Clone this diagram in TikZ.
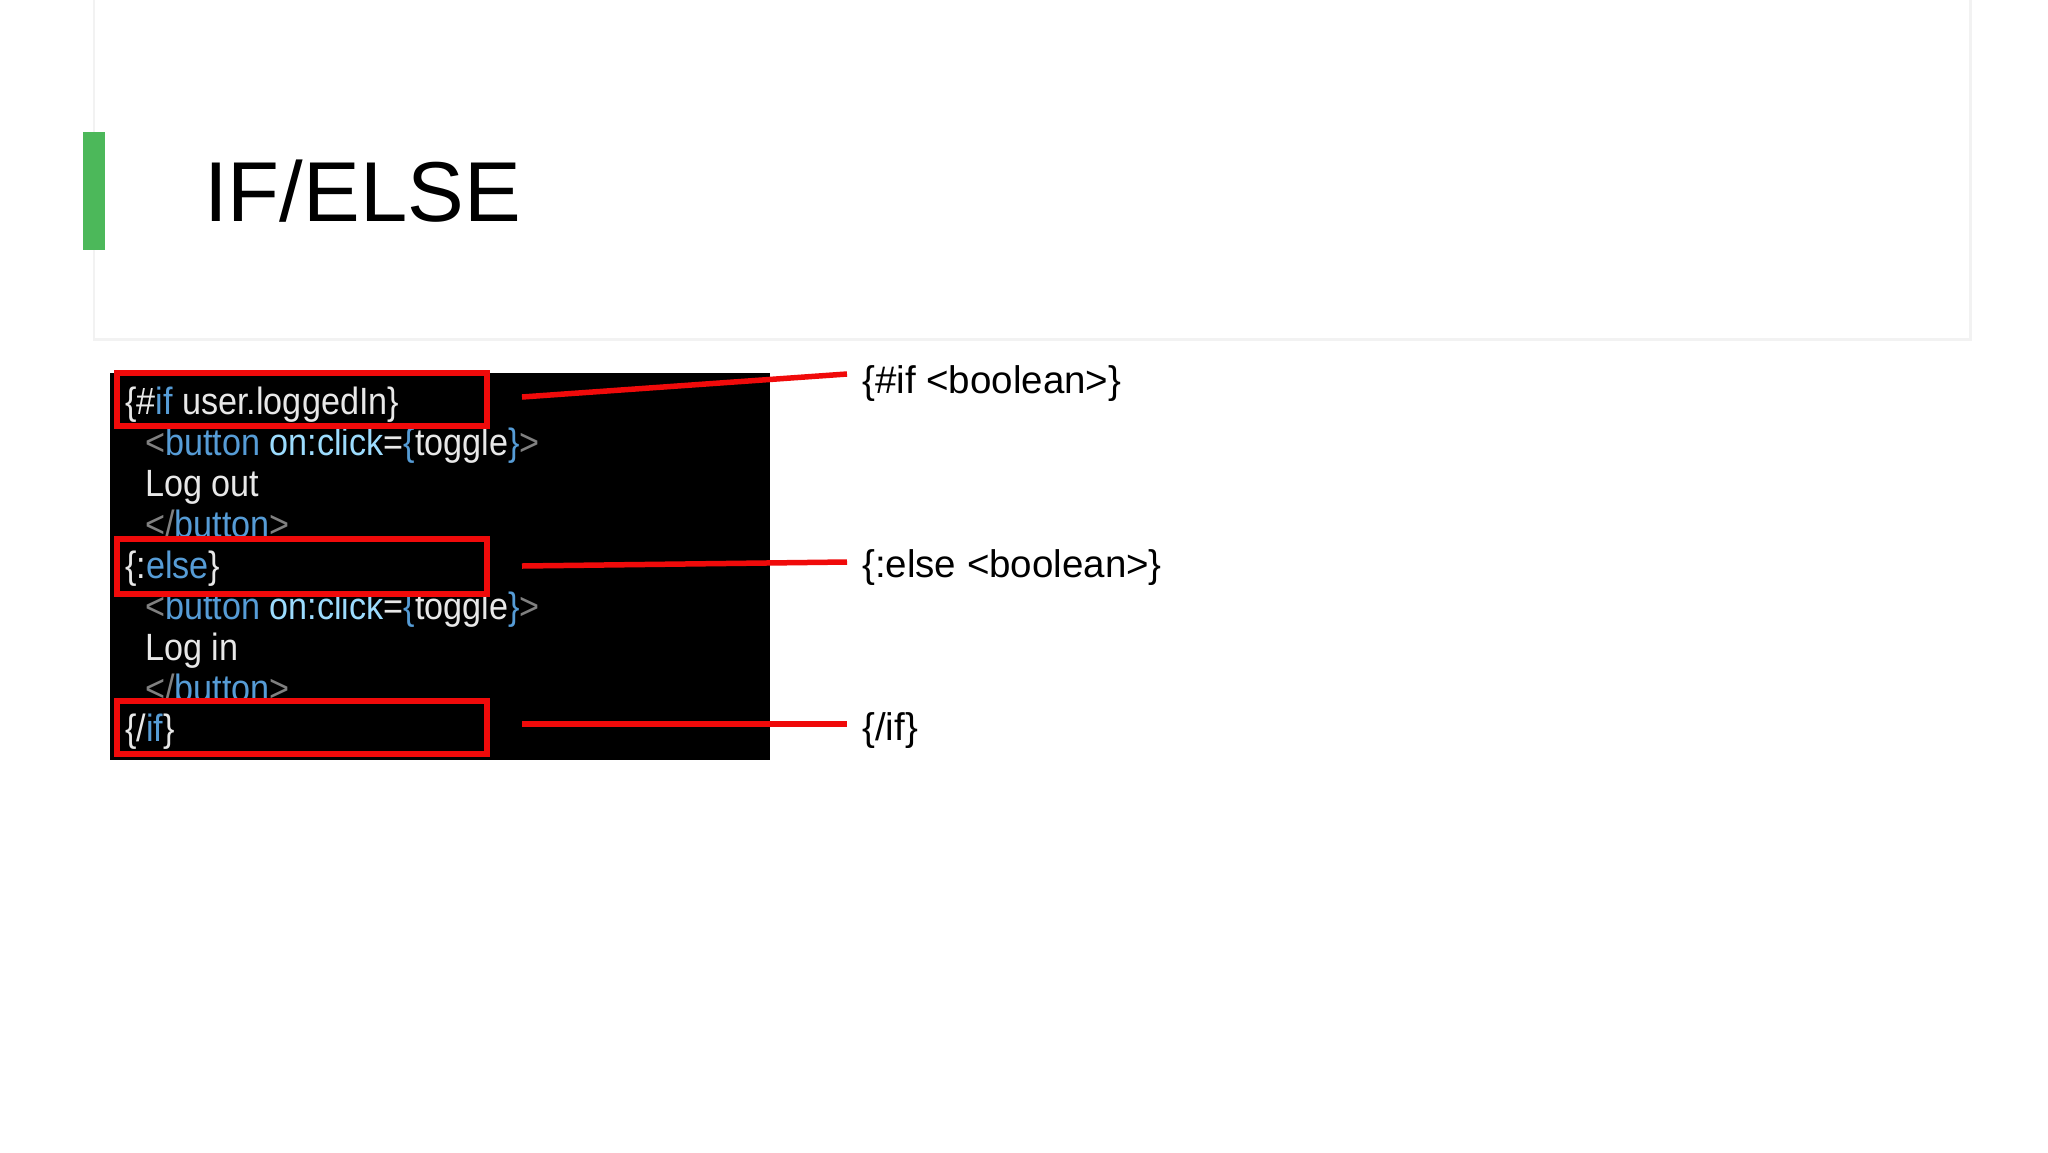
\documentclass[tikz,border=0pt]{standalone}
\usepackage{fontspec}
\setmainfont{Liberation Sans}
\newfontfamily\codefont[FakeStretch=0.9]{Liberation Sans}
\definecolor{kw}{HTML}{569CD6}
\definecolor{attr}{HTML}{9CDCFE}
\definecolor{punc}{HTML}{808080}
\definecolor{txt}{HTML}{E8E8E8}
\definecolor{bar}{HTML}{4CB85A}
\definecolor{hl}{HTML}{F00A0A}
\newcommand{\kwB}[1]{\textcolor{kw}{#1}}
\newcommand{\atA}[1]{\textcolor{attr}{#1}}
\newcommand{\puP}[1]{\textcolor{punc}{#1}}
\begin{document}
\begin{tikzpicture}[x=1pt,y=-1pt,
  code/.style={anchor=base west,inner sep=0pt,text=txt,font=\codefont\fontsize{38}{40}\selectfont},
  lbl/.style={anchor=base west,inner sep=0pt,font=\fontsize{38.5}{42}\selectfont},
  hlbox/.style={draw=hl,line width=5.5pt,fill=black},
  conn/.style={draw=hl,line width=5.5pt}]
\useasboundingbox (0,0) rectangle (2048,1152);
\fill[white] (0,0) rectangle (2048,1152);
\fill[black!5] (93,0) rectangle (1972,341);
\fill[white] (95,0) rectangle (1969,338);
\fill[bar] (83,132) rectangle (105,250);
\node[anchor=base west,inner sep=0pt,font=\fontsize{85}{90}\selectfont] (title) at (204,221) {IF/ELSE};
\fill[black] (110,373) rectangle (770,760);
\node[code] (l2) at (145,455) {\puP{<}\kwB{button} \atA{on:click}=\kwB{\{}toggle\kwB{\}}\puP{>}};
\node[code] (l3) at (145,496) {Log out};
\node[code] (l4) at (145,537) {\puP{</}\kwB{button}\puP{>}};
\node[code] (l6) at (145,619) {\puP{<}\kwB{button} \atA{on:click}=\kwB{\{}toggle\kwB{\}}\puP{>}};
\node[code] (l7) at (145,660) {Log in};
\node[code] (l8) at (145,701) {\puP{</}\kwB{button}\puP{>}};
\draw[hlbox] (117,373) rectangle (487,426);
\draw[hlbox] (117,539) rectangle (487,594);
\draw[hlbox] (117,701) rectangle (487,754);
\node[code] (l1) at (125,414) {\{\#\kwB{if} user.loggedIn\}};
\node[code] (l5) at (125,578) {\{:\kwB{else}\}};
\node[code] (l9) at (125,741) {\{/\kwB{if}\}};
\coordinate (a1) at (522,397); \coordinate (b1) at (847,374);
\coordinate (a2) at (522,566); \coordinate (b2) at (847,562);
\coordinate (a3) at (522,724); \coordinate (b3) at (847,724);
\draw[conn] (a1) -- (b1);
\draw[conn] (a2) -- (b2);
\draw[conn] (a3) -- (b3);
\node[lbl] (t1) at (862,393) {\{\#if <boolean>\}};
\node[lbl] (t2) at (862,577) {\{:else <boolean>\}};
\node[lbl] (t3) at (862,740) {\{/if\}};
\end{tikzpicture}
\end{document}
